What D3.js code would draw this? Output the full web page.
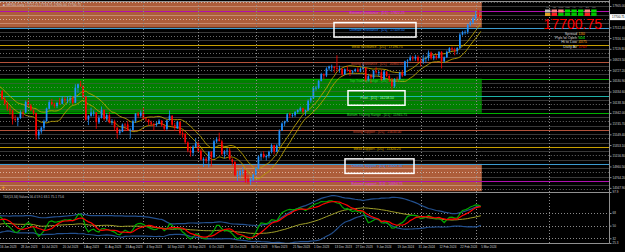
<!DOCTYPE html>
<html>
<head>
<meta charset="utf-8">
<script src="https://cdn.jsdelivr.net/npm/d3@7"></script>
<style>
  body { margin: 0; background: #000; overflow: hidden; }
  svg { display: block; font-family: "Liberation Sans", Arial, sans-serif; }
</style>
</head>
<body>
<svg id="chart" width="625" height="252"></svg>
<script>
var chartTitle = 'GER40.Daily  17722.25 17733.75 17690.00 17700.75';
var tdiTitle = 'TDI(13,34) Values 56.4 59.1 63.1 75.1 75.6';

// closes before the first visible bar, only used to warm up the RSI
var warmupCloses = [15895,15795,15882,15863,15872,15796,15800,15922,15726,15815,15734,15961,15952,15955,15896,15834,15913,15917,15897,15897,16163,16275,16223,16152,15842,15794,15984,15952,15908,15664,15853,16051,15964,15993,15961,15989,15950,16098,16231,16310,16290];

// daily bars [open, high, low, close]
var jun = [[16330,16427,16300,16358],[16350,16360,16180,16201],[16200,16240,16080,16111],[16110,16150,15980,16023],[16020,16060,15910,15988],[15990,16000,15730,15830],[15830,15900,15790,15813],[15810,15870,15700,15846],[15850,15990,15830,15949],[15950,15990,15860,15947],[15950,16170,15940,16148]];
var jul = [[16150,16190,16050,16081],[16080,16110,15980,15990],[15990,16010,15900,15938],[15940,15950,15450,15529],[15530,15640,15460,15603],[15600,15690,15560,15673],[15670,15820,15620,15790],[15790,16040,15780,16024],[16020,16180,16010,16141],[16140,16200,16080,16105],[16100,16130,16030,16069],[16070,16150,16030,16125],[16120,16220,16090,16109],[16110,16250,16100,16204],[16200,16240,16130,16177],[16180,16240,16120,16190],[16190,16260,16120,16211],[16210,16250,16100,16131],[16130,16470,16120,16406],[16400,16480,16310,16469],[16470,16530,16420,16447]];
var aug = [[16440,16450,16210,16240],[16240,16250,15800,15820],[15820,15900,15720,15893],[15890,16040,15870,15951],[15950,15990,15880,15950],[15950,15960,15650,15774],[15770,15900,15740,15852],[15850,16060,15840,15997],[16000,16000,15800,15832],[15830,15940,15780,15904],[15900,15960,15750,15767],[15770,15830,15720,15789],[15790,15820,15620,15676],[15670,15690,15470,15575],[15580,15650,15540,15603],[15600,15750,15590,15729],[15730,15760,15610,15729],[15730,15800,15610,15622],[15620,15660,15470,15632],[15630,15820,15620,15792],[15790,15940,15760,15930],[15930,15960,15850,15892],[15890,15990,15860,15947]];
var sep = [[15950,16040,15830,15840],[15840,15860,15780,15825],[15820,15830,15710,15772],[15770,15800,15700,15742],[15740,15760,15620,15718],[15720,15780,15690,15740],[15740,15830,15740,15800],[15800,15810,15690,15715],[15710,15740,15610,15654],[15650,15820,15620,15805],[15810,15990,15800,15893],[15890,15900,15690,15727],[15720,15760,15610,15664],[15660,15800,15650,15782],[15780,15790,15530,15571],[15570,15620,15490,15557],[15560,15570,15370,15405],[15400,15420,15220,15255],[15250,15330,15140,15217],[15210,15350,15150,15323],[15320,15480,15300,15387]];
var oct = [[15390,15420,15210,15247],[15250,15280,15070,15085],[15080,15130,14950,15099],[15100,15140,15020,15070],[15070,15240,14940,15229],[15230,15240,14960,15128],[15130,15450,15110,15423],[15420,15500,15390,15460],[15460,15580,15420,15425],[15420,15450,15160,15187],[15190,15260,15110,15237],[15240,15300,15170,15251],[15250,15300,15080,15094],[15090,15110,14980,15045],[15040,15060,14780,14798],[14800,14880,14700,14800],[14800,14920,14740,14879],[14880,14950,14810,14892],[14890,14900,14660,14731],[14730,14800,14640,14687],[14690,14760,14620,14716],[14720,14830,14690,14810]];
var nov = [[14810,14950,14800,14923],[14920,15160,14910,15144],[15140,15220,15070,15189],[15190,15240,15110,15136],[15130,15180,15070,15153],[15150,15250,15110,15230],[15230,15380,15200,15353],[15350,15360,15180,15234],[15230,15370,15220,15345],[15340,15640,15320,15615],[15620,15770,15610,15749],[15750,15800,15700,15786],[15790,15940,15770,15919],[15920,15950,15850,15901],[15900,15940,15860,15900],[15900,15980,15870,15958],[15960,16010,15930,15995],[15990,16060,15970,16029],[16030,16040,15930,15967],[15970,16000,15890,15992],[15990,16190,15980,16166],[16170,16240,16130,16215]];
var dec = [[16210,16420,16200,16398],[16400,16440,16350,16405],[16400,16550,16380,16533],[16530,16680,16520,16656],[16650,16670,16560,16628],[16630,16780,16600,16759],[16760,16810,16720,16794],[16790,16830,16700,16792],[16790,16800,16680,16766],[16770,17000,16700,16752],[16750,16810,16680,16751],[16750,16760,16620,16650],[16650,16760,16640,16744],[16740,16800,16700,16733],[16730,16740,16620,16687],[16690,16730,16660,16706],[16710,16760,16690,16742],[16740,16780,16690,16701],[16700,16780,16690,16752]];
var jan = [[16750,16850,16730,16769],[16770,16780,16510,16538],[16540,16660,16520,16617],[16620,16660,16490,16594],[16590,16730,16560,16716],[16710,16780,16660,16688],[16690,16720,16610,16690],[16690,16740,16530,16547],[16550,16730,16540,16704],[16700,16710,16600,16622],[16620,16660,16510,16572],[16570,16580,16350,16432],[16430,16580,16400,16567],[16570,16610,16510,16555],[16560,16700,16550,16683],[16680,16730,16600,16628],[16630,16900,16620,16890],[16890,16930,16780,16907],[16910,17000,16890,16961],[16960,16990,16900,16942],[16940,17010,16900,16972],[16970,17000,16860,16904]];
var feb = [[16900,16950,16800,16880],[16880,17010,16840,16940],[16940,16980,16860,16950],[16950,17090,16900,17050],[17050,17070,16920,16945],[16945,17010,16910,16985],[16985,17030,16920,16950],[16950,17080,16940,17060],[17060,17080,16760,16890],[16890,16980,16860,16965],[16965,17090,16950,17065],[17065,17150,17050,17130],[17130,17160,17080,17105],[17105,17140,17000,17085],[17085,17150,17020,17135],[17135,17410,17120,17380],[17380,17450,17360,17425],[17425,17460,17380,17430],[17430,17580,17390,17560],[17560,17630,17530,17605],[17605,17710,17570,17680]];
var mar = [[17680,17815,17650,17740],[17740,17830,17690,17720],[17722.25,17733.75,17690,17700.75]];

var dateLabels = ['16 Jun 2023','28 Jun 2023','10 Jul 2023','20 Jul 2023','1 Aug 2023','11 Aug 2023','23 Aug 2023','4 Sep 2023','14 Sep 2023','26 Sep 2023','6 Oct 2023','18 Oct 2023','30 Oct 2023','9 Nov 2023','21 Nov 2023','1 Dec 2023','13 Dec 2023','27 Dec 2023','9 Jan 2024','19 Jan 2024','31 Jan 2024','12 Feb 2024','22 Feb 2024','5 Mar 2024'];
var dateLabelBars = [0,8,16,24,32,40,48,56,64,72,80,88,96,104,112,120,128,136,144,152,160,168,176,184];
var monthStartBars = [11,32,55,76,98,120,139,161,182,210];

var levelNames = ['Extreme resistance','Ultimate resistance','Weak resistance','Strong resistance','Top Trading Range','Pivot','Bottom Trading Range','Strong support','Weak support','Ultimate support','Extreme support'];
var levelValues = [17822.25,17509.50,17196.75,16884.00,16571.25,16258.50,15945.75,15633.00,15320.25,15007.50,14694.75];

var priceTicks = [17905.00,17512.40,17316.10,17119.80,16923.50,16727.20,16530.90,16334.60,16138.30,15942.00,15745.70,15549.40,15353.10,15156.80,14960.50,14764.20,14567.90];
var tdiTicks = [97.9,68,50,32,25.3];
var tdiLevels = [68,50,32];

var tfNames = ['M1','M5','M15','M30','H1','H4','D1','W1'];
var tfTrendTop = [0,-1,-1,1,1,1,-1,1];
var tfTrendBottom = [2,-1,1,1,1,1,-1,1];
var infoNames = ['Spread','Pips to Open','Hi to Low','Daily Av'];
var infoValues = ['130','604','4375','1707'];
var lastPrice = 17700.75;

var bars = [].concat(jun, jul, aug, sep, oct, nov, dec, jan, feb, mar).map(function(b, i) {
  return {i: i, o: b[0], h: b[1], l: b[2], c: b[3]};
});
var last = bars.length - 1;

var svg = d3.select('#chart');
var axisX = 609;
var mainTop = 2, mainBottom = 191.5, tdiTop = 193, tdiBottom = 243;

var x = d3.scaleLinear().domain([0, last]).range([-0.5, 480.8]);
var y = d3.scaleLinear().domain([14510, 17960]).range([191, 3]);
var yT = d3.scaleLinear().domain([25.3, 97.9]).range([243, 192]);

svg.append('rect').attr('width', 625).attr('height', 252).attr('fill', '#000');

var defs = svg.append('defs');
defs.append('clipPath').attr('id', 'clipMain').append('rect')
  .attr('x', 0).attr('y', mainTop).attr('width', axisX).attr('height', mainBottom - mainTop);
defs.append('clipPath').attr('id', 'clipTdi').append('rect')
  .attr('x', 0).attr('y', tdiTop).attr('width', axisX).attr('height', tdiBottom - tdiTop);

var g = svg.append('g').attr('clip-path', 'url(#clipMain)');

// zones
var UR = levelValues[1], TTR = levelValues[4], BTR = levelValues[6], US = levelValues[9];
var zoneRight = x(last) + 1;
var zones = [
  {top: mainTop, bottom: y(UR), fill: '#ad5d3a'},
  {top: y(TTR), bottom: y(BTR), fill: '#008000'},
  {top: y(US), bottom: mainBottom, fill: '#ad5d3a'}
];
g.selectAll('rect.zone').data(zones).join('rect')
  .attr('class', 'zone')
  .attr('x', 0).attr('width', zoneRight)
  .attr('y', function(d) { return d.top; })
  .attr('height', function(d) { return d.bottom - d.top; })
  .attr('fill', function(d) { return d.fill; });

// quarter lines between the levels
var step = levelValues[0] - levelValues[1];
var ext = [levelValues[0] + step].concat(levelValues, [levelValues[levelValues.length - 1] - step]);
var subs = [];
for (var k = 0; k < ext.length - 1; k++) {
  [0.25, 0.5, 0.75].forEach(function(q) {
    subs.push({p: ext[k] - q * (ext[k] - ext[k + 1]), dotted: q === 0.5});
  });
}
function zoneOf(p) {
  if (p > UR || p < US) return 'orange';
  if (p < TTR && p > BTR) return 'green';
  return 'black';
}
var subColors = {orange: ['#c88a6d', '#dbb09c'], green: ['#2c6c2c', '#4c8c4c'], black: ['#383838', '#6a6a6a']};
subs.forEach(function(s) {
  var yy = Math.round(y(s.p)) + 0.5;
  var c = subColors[zoneOf(s.p)];
  g.append('line').attr('x1', 0).attr('x2', zoneRight).attr('y1', yy).attr('y2', yy)
    .attr('stroke', s.dotted ? c[1] : c[0]).attr('stroke-width', 1)
    .attr('stroke-dasharray', s.dotted ? '1,2' : null);
  g.append('line').attr('x1', zoneRight).attr('x2', axisX).attr('y1', yy).attr('y2', yy)
    .attr('stroke', s.dotted ? subColors.black[1] : subColors.black[0]).attr('stroke-width', 1)
    .attr('stroke-dasharray', s.dotted ? '1,2' : null);
});

// month separators
svg.append('g').selectAll('line').data(monthStartBars).join('line')
  .attr('x1', function(d) { return Math.round(x(d)) + 0.5; })
  .attr('x2', function(d) { return Math.round(x(d)) + 0.5; })
  .attr('y1', mainTop).attr('y2', tdiBottom)
  .attr('stroke', '#8a8a8a').attr('stroke-width', 1).attr('stroke-dasharray', '1,2');

// level lines
var levelLineColors = ['#b010b0','#3c9bd0','#c8a000','#b4523a','#00b000','#20b2aa','#00b000','#b4523a','#c8a000','#3c9bd0','#b010b0'];
var levelTextColors = ['#e040e0','#2a8cff','#d4b000','#d04a30','#3ad03a','#b0ffb0','#3ad03a','#d04a30','#d4b000','#2a8cff','#e040e0'];
g.selectAll('line.level').data(levelValues).join('line')
  .attr('class', 'level')
  .attr('x1', 0).attr('x2', axisX)
  .attr('y1', function(d) { return Math.round(y(d)) + 0.5; })
  .attr('y2', function(d) { return Math.round(y(d)) + 0.5; })
  .attr('stroke', function(d, i) { return levelLineColors[i]; })
  .attr('stroke-width', 1);

// high/low moving averages
function sma(arr, n) {
  return arr.map(function(v, i) { return d3.mean(arr.slice(Math.max(0, i - n + 1), i + 1)); });
}
var maHigh = sma(bars.map(function(d) { return d.h; }), 10);
var maLow = sma(bars.map(function(d) { return d.l; }), 10);
var maLine = d3.line().x(function(d, i) { return x(i); }).y(function(d) { return y(d); }).curve(d3.curveMonotoneX);
[maHigh, maLow].forEach(function(s) {
  g.append('path').attr('d', maLine(s)).attr('fill', 'none').attr('stroke', '#b8a000').attr('stroke-width', 0.9);
});

// candles
var bull = '#1e90ff', bear = '#ff0000';
var cw = 1.7;
g.selectAll('line.wick').data(bars).join('line')
  .attr('class', 'wick')
  .attr('x1', function(d) { return x(d.i); }).attr('x2', function(d) { return x(d.i); })
  .attr('y1', function(d) { return y(d.h); }).attr('y2', function(d) { return y(d.l); })
  .attr('stroke', function(d) { return d.c >= d.o ? bull : bear; })
  .attr('stroke-width', 0.8);
g.selectAll('rect.body').data(bars).join('rect')
  .attr('class', 'body')
  .attr('x', function(d) { return x(d.i) - cw / 2; })
  .attr('width', cw)
  .attr('y', function(d) { return y(Math.max(d.o, d.c)); })
  .attr('height', function(d) { return Math.max(0.8, Math.abs(y(d.o) - y(d.c))); })
  .attr('fill', function(d) { return d.c >= d.o ? bull : bear; });

// level labels
var labelX = 377;
g.selectAll('text.level').data(levelValues).join('text')
  .attr('class', 'level')
  .attr('x', labelX)
  .attr('y', function(d) { return y(d) + 3.6; })
  .attr('text-anchor', 'middle')
  .attr('font-size', 3.4)
  .attr('fill', function(d, i) { return levelTextColors[i]; })
  .text(function(d, i) { return levelNames[i] + ' - [D1] : ' + d.toFixed(2); });

var boxes = [{level: 1, x0: 334, x1: 416}, {level: 5, x0: 348, x1: 405}, {level: 9, x0: 345, x1: 414}];
g.selectAll('rect.box').data(boxes).join('rect')
  .attr('class', 'box')
  .attr('x', function(d) { return d.x0; })
  .attr('width', function(d) { return d.x1 - d.x0; })
  .attr('y', function(d) { return y(levelValues[d.level]) - 5; })
  .attr('height', 14.5)
  .attr('fill', 'none').attr('stroke', '#fff').attr('stroke-width', 1.5);

// one-click trading marker
g.append('text').attr('x', 1.5).attr('y', 189).attr('font-size', 6).attr('font-weight', 'bold')
  .attr('fill', '#f0a030').text('+');

// TDI
function rsiSeries(c, n) {
  var out = [50], ag = 0, al = 0;
  for (var i = 1; i < c.length; i++) {
    var ch = c[i] - c[i - 1];
    var kk = Math.min(i, n);
    ag = (ag * (kk - 1) + Math.max(ch, 0)) / kk;
    al = (al * (kk - 1) + Math.max(-ch, 0)) / kk;
    out.push(al === 0 ? 100 : 100 - 100 / (1 + ag / al));
  }
  return out;
}
function stdev(arr, n) {
  return arr.map(function(v, i) { return d3.deviation(arr.slice(Math.max(0, i - n + 1), i + 1)) || 0; });
}
var allCloses = warmupCloses.concat(bars.map(function(d) { return d.c; }));
var rsi = rsiSeries(allCloses, 13);
var off = warmupCloses.length;
var base = sma(rsi, 34), dev = stdev(rsi, 34);
var tdi = {
  upper: base.map(function(b, i) { return b + 1.6185 * dev[i]; }).slice(off),
  lower: base.map(function(b, i) { return b - 1.6185 * dev[i]; }).slice(off),
  base: base.slice(off),
  green: sma(rsi, 2).slice(off),
  red: sma(rsi, 7).slice(off)
};
var gt = svg.append('g').attr('clip-path', 'url(#clipTdi)');
gt.selectAll('line.lvl').data(tdiLevels).join('line')
  .attr('x1', 0).attr('x2', axisX)
  .attr('y1', function(d) { return Math.round(yT(d)) + 0.5; })
  .attr('y2', function(d) { return Math.round(yT(d)) + 0.5; })
  .attr('stroke', '#8a8a8a').attr('stroke-dasharray', '1,2');
var tLine = d3.line().x(function(d, i) { return x(i); }).y(function(d) { return yT(d); });
[['upper', '#23508f', 1.2], ['lower', '#23508f', 1.2], ['base', '#a0a028', 1], ['green', '#00a800', 1.2], ['red', '#ff0000', 1.2]].forEach(function(s) {
  gt.append('path').attr('d', tLine(tdi[s[0]])).attr('fill', 'none').attr('stroke', s[1]).attr('stroke-width', s[2]);
});
svg.append('text').attr('x', 3).attr('y', 198).attr('font-size', 3.2).attr('fill', '#c0c0c0').text(tdiTitle);

// frame
var frame = svg.append('g').attr('stroke', '#909090').attr('stroke-width', 1);
frame.append('line').attr('x1', axisX + 0.5).attr('x2', axisX + 0.5).attr('y1', 0).attr('y2', tdiBottom + 0.5);
frame.append('line').attr('x1', 0).attr('x2', axisX).attr('y1', 192.5).attr('y2', 192.5);
frame.append('line').attr('x1', 0).attr('x2', axisX + 0.5).attr('y1', tdiBottom + 0.5).attr('y2', tdiBottom + 0.5);
frame.append('line').attr('x1', 0).attr('x2', axisX).attr('y1', 1.5).attr('y2', 1.5);

// price axis
var yAxis = d3.axisRight(y).tickValues(priceTicks).tickFormat(d3.format('.2f')).tickSize(2).tickPadding(1);
var ya = svg.append('g').attr('transform', 'translate(' + (axisX + 0.5) + ',0)').call(yAxis);
ya.select('.domain').remove();
ya.selectAll('line').attr('stroke', '#909090');
ya.selectAll('text').attr('font-size', 3).attr('fill', '#d0d0d0').attr('font-family', null);

var tAxis = d3.axisRight(yT).tickValues(tdiTicks).tickFormat(function(d) { return String(d); }).tickSize(2).tickPadding(1);
var ta = svg.append('g').attr('transform', 'translate(' + (axisX + 0.5) + ',0)').call(tAxis);
ta.select('.domain').remove();
ta.selectAll('line').attr('stroke', '#909090');
ta.selectAll('text').attr('font-size', 3).attr('fill', '#d0d0d0').attr('font-family', null);

svg.append('rect').attr('x', axisX + 1).attr('y', y(lastPrice) - 3).attr('width', 15).attr('height', 6).attr('fill', '#fff');
svg.append('text').attr('x', axisX + 3).attr('y', y(lastPrice) + 1).attr('font-size', 3).attr('fill', '#000').text(lastPrice.toFixed(2));

// time axis
var xAxis = d3.axisBottom(x).tickValues(dateLabelBars)
  .tickFormat(function(d, k) { return dateLabels[k]; }).tickSize(0).tickPadding(3);
var xa = svg.append('g').attr('transform', 'translate(0,' + tdiBottom + ')').call(xAxis);
xa.select('.domain').remove();
xa.selectAll('text').attr('text-anchor', 'start').attr('font-size', 3).attr('fill', '#d0d0d0').attr('font-family', null);

// title
svg.append('text').attr('x', 3).attr('y', 5.5).attr('font-size', 3.2).attr('fill', '#d0d0d0').text('\u25A0 ' + chartTitle);

// trend panel
var tfX0 = 545, tfStep = 6.6, tfW = 5.4;
function trendColor(v, top) {
  if (v > 1) return '#e0a020';
  if (v > 0) return top ? '#00e000' : '#00c000';
  if (v < 0) return top ? '#ff8080' : '#ff2020';
  return '#c0c0c0';
}
var tp = svg.append('g');
tp.selectAll('text').data(tfNames).join('text')
  .attr('x', function(d, i) { return tfX0 + i * tfStep + tfW / 2; })
  .attr('y', 8.2).attr('text-anchor', 'middle').attr('font-size', 2.4).attr('fill', '#a0a0a0')
  .text(function(d) { return d; });
tp.selectAll('rect.t').data(tfTrendTop).join('rect')
  .attr('class', 't')
  .attr('x', function(d, i) { return tfX0 + i * tfStep; }).attr('y', 9.5)
  .attr('width', tfW).attr('height', 3)
  .attr('fill', function(d) { return trendColor(d, true); });
tp.selectAll('rect.b').data(tfTrendBottom).join('rect')
  .attr('class', 'b')
  .attr('x', function(d, i) { return tfX0 + i * tfStep; }).attr('y', 13)
  .attr('width', tfW).attr('height', 3)
  .attr('fill', function(d) { return trendColor(d, false); });

svg.append('text').attr('x', 602).attr('y', 29).attr('text-anchor', 'end')
  .attr('font-size', 14).attr('fill', '#ff0000').text(lastPrice.toFixed(2));

var infoColors = ['#ffa500', '#00ff00', '#ffa500', '#ff0000'];
var infoY = [34.6, 39, 43.4, 48.4];
svg.selectAll('text.iname').data(infoNames).join('text')
  .attr('class', 'iname')
  .attr('x', 577).attr('y', function(d, i) { return infoY[i]; })
  .attr('text-anchor', 'end').attr('font-size', 3.8).attr('fill', '#d8d8d8')
  .text(function(d) { return d; });
svg.selectAll('text.ival').data(infoValues).join('text')
  .attr('class', 'ival')
  .attr('x', 578.5).attr('y', function(d, i) { return infoY[i]; })
  .attr('font-size', 3.8).attr('fill', function(d, i) { return infoColors[i]; })
  .text(function(d) { return d; });
</script>
</body>
</html>
